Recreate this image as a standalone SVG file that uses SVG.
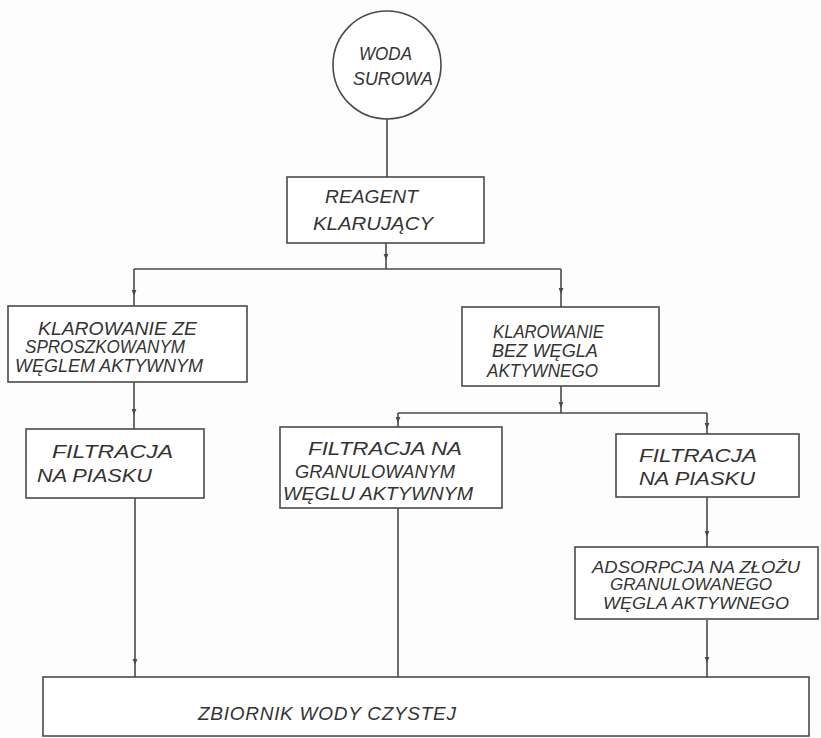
<svg xmlns="http://www.w3.org/2000/svg" width="821" height="738" viewBox="0 0 821 738">
  <style>
    .box { fill: #ffffff; stroke: #4a4a4a; stroke-width: 1.6; }
    .wire { fill: none; stroke: #4a4a4a; stroke-width: 1.6; marker-mid: url(#tip); }
    .plain { fill: none; stroke: #4a4a4a; stroke-width: 1.6; }
    .lbl { font-family: "Liberation Sans", Arial, sans-serif; font-style: italic; font-size: 18px; fill: #333333; }
    .sm { font-size: 16px; }
    .big { font-size: 19px; }
  </style>
  <defs>
    <marker id="tip" viewBox="0 0 10 10" refX="10" refY="5" markerWidth="8" markerHeight="6" orient="auto" markerUnits="userSpaceOnUse">
      <path d="M0,1 L10,5 L0,9 z" fill="#4a4a4a"/>
    </marker>
  </defs>
  <rect width="821" height="738" fill="#fdfdfd"/>

  <!-- connectors -->
  <g id="connectors">
    <path class="plain" d="M387,119 L387,177"/>
    <path class="wire" d="M386,243 L386,260 L386,269"/>
    <path class="plain" d="M134,269 L561,269"/>
    <path class="wire" d="M134,269 L134,296 L134,306"/>
    <path class="wire" d="M561,269 L561,294 L561,307"/>
    <path class="wire" d="M134,382 L134,415 L134,429"/>
    <path class="wire" d="M561,386 L561,408 L561,413"/>
    <path class="plain" d="M398,413 L707,413"/>
    <path class="wire" d="M398,413 L398,423 L398,427"/>
    <path class="wire" d="M707,413 L707,429 L707,434"/>
    <path class="wire" d="M135,498 L135,665 L135,677"/>
    <path class="plain" d="M398,508 L398,677"/>
    <path class="wire" d="M707,497 L707,537 L707,548"/>
    <path class="wire" d="M707,620 L707,663 L707,677"/>
  </g>

  <g id="woda-surowa">
    <circle class="box" cx="387" cy="65" r="54"/>
    <text class="lbl" x="359" y="60" textLength="53" lengthAdjust="spacingAndGlyphs">WODA</text>
    <text class="lbl" x="353" y="85" textLength="80" lengthAdjust="spacingAndGlyphs">SUROWA</text>
  </g>

  <g id="reagent">
    <rect class="box" x="287" y="177" width="197" height="66"/>
    <text class="lbl" x="325" y="203" textLength="93" lengthAdjust="spacingAndGlyphs">REAGENT</text>
    <text class="lbl" x="313" y="230" textLength="120" lengthAdjust="spacingAndGlyphs">KLARUJĄCY</text>
  </g>

  <g id="klarowanie-wegiel">
    <rect class="box" x="8" y="306" width="239" height="76"/>
    <text class="lbl" x="38" y="335" textLength="159" lengthAdjust="spacingAndGlyphs">KLAROWANIE ZE</text>
    <text class="lbl" x="25" y="353" textLength="160" lengthAdjust="spacingAndGlyphs">SPROSZKOWANYM</text>
    <text class="lbl" x="15" y="372" textLength="188" lengthAdjust="spacingAndGlyphs">WĘGLEM AKTYWNYM</text>
  </g>

  <g id="klarowanie-bez">
    <rect class="box" x="462" y="307" width="197" height="79"/>
    <text class="lbl" x="493" y="338" textLength="111" lengthAdjust="spacingAndGlyphs">KLAROWANIE</text>
    <text class="lbl" x="492" y="357" textLength="106" lengthAdjust="spacingAndGlyphs">BEZ WĘGLA</text>
    <text class="lbl" x="487" y="377" textLength="111" lengthAdjust="spacingAndGlyphs">AKTYWNEGO</text>
  </g>

  <g id="filtracja-piasek-1">
    <rect class="box" x="26" y="429" width="178" height="69"/>
    <text class="lbl" x="52" y="458" textLength="121" lengthAdjust="spacingAndGlyphs">FILTRACJA</text>
    <text class="lbl" x="37" y="482" textLength="115" lengthAdjust="spacingAndGlyphs">NA PIASKU</text>
  </g>

  <g id="filtracja-granulowany">
    <rect class="box" x="280" y="427" width="222" height="81"/>
    <text class="lbl" x="308" y="455" textLength="154" lengthAdjust="spacingAndGlyphs">FILTRACJA NA</text>
    <text class="lbl" x="295" y="478" textLength="160" lengthAdjust="spacingAndGlyphs">GRANULOWANYM</text>
    <text class="lbl" x="283" y="500" textLength="190" lengthAdjust="spacingAndGlyphs">WĘGLU AKTYWNYM</text>
  </g>

  <g id="filtracja-piasek-2">
    <rect class="box" x="616" y="434" width="183" height="63"/>
    <text class="lbl" x="639" y="462" textLength="118" lengthAdjust="spacingAndGlyphs">FILTRACJA</text>
    <text class="lbl" x="639" y="485" textLength="116" lengthAdjust="spacingAndGlyphs">NA PIASKU</text>
  </g>

  <g id="adsorpcja">
    <rect class="box" x="575" y="547" width="243" height="72"/>
    <text class="lbl sm" x="592" y="573" textLength="208" lengthAdjust="spacingAndGlyphs">ADSORPCJA NA ZŁOŻU</text>
    <text class="lbl sm" x="610" y="590" textLength="162" lengthAdjust="spacingAndGlyphs">GRANULOWANEGO</text>
    <text class="lbl sm" x="603" y="609" textLength="186" lengthAdjust="spacingAndGlyphs">WĘGLA AKTYWNEGO</text>
  </g>

  <g id="zbiornik">
    <rect class="box" x="43" y="677" width="766" height="59"/>
    <text class="lbl big" x="198" y="720" textLength="258" lengthAdjust="spacing">ZBIORNIK WODY CZYSTEJ</text>
  </g>
</svg>
